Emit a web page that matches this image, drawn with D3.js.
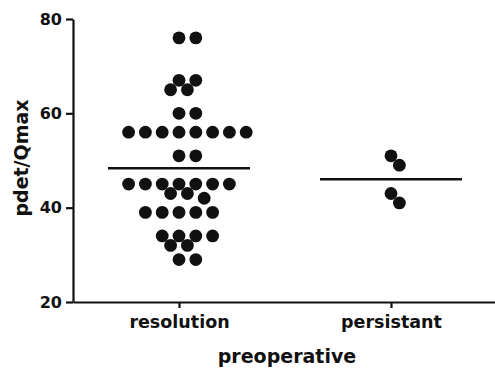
<!DOCTYPE html>
<html>
<head>
<meta charset="utf-8">
<script src="https://cdn.jsdelivr.net/npm/d3@7"></script>
<style>
  body { margin: 0; background: #fff; }
  text { font-family: "DejaVu Sans", sans-serif; font-weight: bold; fill: #111; }
</style>
</head>
<body>
<div id="chart"></div>
<script>
// data
const categories = ['resolution', 'persistant'];
const resolution = [76, 76, 67, 67, 65, 65, 60, 60,
    56, 56, 56, 56, 56, 56, 56, 56, 51, 51,
    45, 45, 45, 45, 45, 45, 45, 43, 43, 42,
    39, 39, 39, 39, 39, 34, 34, 34, 34, 32, 32, 29, 29];
const persistant = [51, 49, 43, 41];
const yTicks = [20, 40, 60, 80];

const width = 495;
const height = 370;

const svg = d3.select('#chart')
    .append('svg')
    .attr('width', width)
    .attr('height', height);

const x = d3.scalePoint()
    .domain(categories)
    .range([73, 497])
    .padding(0.5);

const y = d3.scaleLinear()
    .domain([20, 80])
    .range([302, 19]);

const r = 6.4;          // dot radius
const half = 8.4;       // half of the column step
const minDist = 12.5;   // two dots closer than this overlap

// simple greedy swarm: each dot goes to the nearest free half-step column
function swarm(values, cx) {
    const placed = [];
    values.forEach(v => {
        const cy = y(v);
        for (let k = 0; k < 40; k++) {
            const off = k === 0 ? 0 : (k % 2 ? 1 : -1) * Math.ceil(k / 2) * half;
            const px = cx + off;
            const ok = placed.every(p => Math.hypot(p.x - px, p.y - cy) >= minDist);
            if (ok) {
                placed.push({ x: px, y: cy, v: v });
                break;
            }
        }
    });
    return placed;
}

const groups = [
    { name: 'resolution', values: resolution },
    { name: 'persistant', values: persistant }
];

// y axis
const yAxis = svg.append('g')
    .attr('transform', 'translate(73,0)')
    .call(d3.axisLeft(y).tickValues(yTicks).tickSize(7).tickSizeOuter(0).tickPadding(4));
yAxis.select('.domain').attr('stroke', '#111').attr('stroke-width', 2.2);
yAxis.selectAll('.tick line').attr('stroke', '#111').attr('stroke-width', 2.2);
yAxis.selectAll('.tick text').style('font-size', '16px').attr('fill', '#111');

// x axis
const xAxis = svg.append('g')
    .attr('transform', 'translate(0,302)')
    .call(d3.axisBottom(x).tickSize(6).tickSizeOuter(0).tickPadding(8));
xAxis.select('.domain').attr('stroke', '#111').attr('stroke-width', 2.2);
xAxis.selectAll('.tick line').attr('stroke', '#111').attr('stroke-width', 2.2);
xAxis.selectAll('.tick text').style('font-size', '17.5px').attr('fill', '#111');

// axis titles
svg.append('text')
    .attr('transform', 'translate(22,158) rotate(-90)')
    .attr('text-anchor', 'middle')
    .attr('dominant-baseline', 'middle')
    .style('font-size', '19px')
    .text('pdet/Qmax');

svg.append('text')
    .attr('x', 287)
    .attr('y', 357)
    .attr('text-anchor', 'middle')
    .attr('dominant-baseline', 'middle')
    .style('font-size', '19px')
    .text('preoperative');

// dots and mean lines
groups.forEach(g => {
    const cx = x(g.name);
    const dots = swarm(g.values, cx);

    svg.append('g')
        .selectAll('circle')
        .data(dots)
        .join('circle')
        .attr('cx', d => d.x)
        .attr('cy', d => d.y)
        .attr('r', r)
        .attr('fill', '#111');

    const m = d3.mean(g.values);
    svg.append('line')
        .attr('x1', cx - 71)
        .attr('x2', cx + 71)
        .attr('y1', y(m))
        .attr('y2', y(m))
        .attr('stroke', '#111')
        .attr('stroke-width', 2.5);
});
</script>
</body>
</html>
